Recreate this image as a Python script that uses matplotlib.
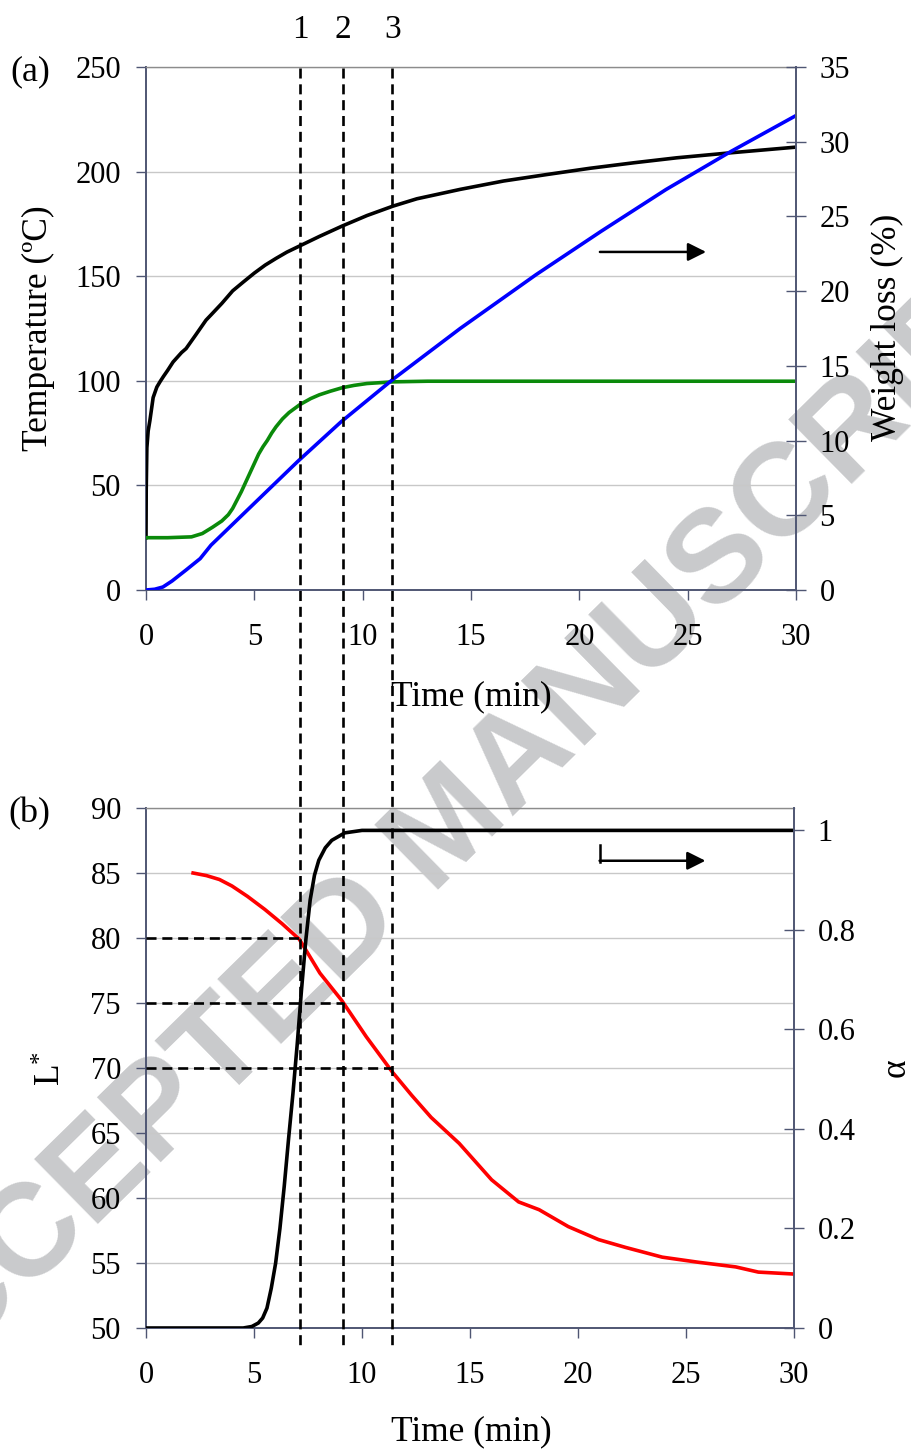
import numpy as np
import matplotlib
matplotlib.use("Agg")
import matplotlib.pyplot as plt
from matplotlib.lines import Line2D
from matplotlib import transforms

plt.rcParams["font.family"] = ["Liberation Serif", "DejaVu Serif"]
plt.rcParams["mathtext.fontset"] = "custom"
plt.rcParams["mathtext.rm"] = "Liberation Serif"
plt.rcParams["mathtext.it"] = "Liberation Serif:italic"

# ---- (a) temperature, weight loss and colour curve vs time ----
t_temp = [0, 0.01, 0.04, 0.1, 0.18, 0.33, 0.5, 0.65, 0.8, 1.0, 1.25, 1.64, 1.85, 2.3, 2.77,
          3.0, 3.5, 4.0, 4.5, 5.0, 5.5, 6.0, 6.5, 7.1, 8.0, 9.06, 10.2, 11.4, 12.5, 14.5,
          16.5, 18.5, 20.5, 22.5, 24.5, 27.0, 30]
temp = [25, 48, 68, 76, 81, 92, 97, 99.6, 102, 105, 109, 113.5, 115.4, 122, 129,
        131.5, 137, 143, 147.3, 151.5, 155.3, 158.5, 161.5, 164.5, 169, 174, 179, 183.5, 187,
        191.5, 195.5, 198.6, 201.6, 204.2, 206.6, 209, 211.7]

t_wl = [0, 0.4, 0.78, 1.2, 1.85, 2.5, 3.0, 5, 7, 9, 11.4, 14.5, 18, 21, 24, 27, 30]
weight_loss = [0, 0.05, 0.2, 0.6, 1.34, 2.1, 3.0, 5.8, 8.6, 11.25, 14.1, 17.5, 21.1, 24.0,
               26.8, 29.35, 31.75]

t_green = [0, 1, 2.1, 2.6, 3.07, 3.5, 3.8, 4.0, 4.2, 4.4, 4.6, 4.8, 5.0, 5.2, 5.4, 5.6,
           5.8, 6.0, 6.3, 6.6, 7.1, 7.6, 8.0, 8.5, 9.06, 9.6, 10.2, 11.4, 13, 30]
green = [25, 25, 25.4, 27, 30, 33, 36, 39, 43, 47, 51.5, 56, 60.5, 65, 68.5, 71.5,
         75, 78, 81.8, 84.8, 88.6, 91.5, 93.3, 95, 96.7, 97.8, 98.7, 99.5, 99.8, 99.8]

# ---- (b) lightness L* and conversion alpha vs time ----
t_alpha = [0, 4.5, 4.9, 5.2, 5.4, 5.6, 5.8, 6.0, 6.2, 6.4, 6.6, 6.8, 7.0, 7.2, 7.4, 7.6,
           7.8, 8.0, 8.3, 8.6, 9.2, 10, 30]
alpha = [0, 0, 0.003, 0.01, 0.02, 0.04, 0.08, 0.13, 0.2, 0.285, 0.38, 0.47, 0.57, 0.68,
         0.78, 0.86, 0.91, 0.94, 0.965, 0.98, 0.995, 1.0, 1.0]

t_L = [2.18, 2.8, 3.4, 3.98, 4.7, 5.5, 6.3, 7.1, 8.05, 9.06, 10.2, 11.4, 12.3, 13.2, 14.5,
       16.0, 17.25, 18.2, 19.55, 20.95, 22.2, 23.9, 25.6, 27.3, 28.35, 30]
L_star = [85, 84.8, 84.5, 84, 83.2, 82.2, 81.1, 79.9, 77.3, 75.2, 72.4, 69.7, 67.9, 66.2,
          64.2, 61.4, 59.7, 59.1, 57.8, 56.8, 56.2, 55.45, 55.05, 54.7, 54.3, 54.15]

# marked times and the L* levels read at them
mark_times = [7.15, 9.1, 11.4]
mark_names = ["1", "2", "3"]
mark_L = [80, 75, 70]

W, H = 912, 1451
SPINE = "#4f5673"
GRID = "#c8c8c8"
LW = 2.6
DASH = dict(color="black", lw=1.9, dashes=(3.8, 2.2))


def fx(px):
    return px / W


def fy(py):
    return 1 - py / H


fig = plt.figure(figsize=(W / 100, H / 100), dpi=100)
ax1 = fig.add_axes([fx(146), fy(590), (796 - 146) / W, (590 - 67) / H])
ax2 = fig.add_axes([fx(146), fy(1328), (794 - 146) / W, (1328 - 808) / H])
ax1r = ax1.twinx()
ax2r = ax2.twinx()

for ax in (ax1, ax2):
    ax.set_facecolor("none")
    ax.set_xlim(0, 30)
    ax.set_xticks(np.arange(0, 31, 5))
    ax.grid(axis="y", color=GRID, lw=1.0)
    ax.set_axisbelow(True)
    ax.spines["right"].set_visible(False)
    ax.spines["top"].set_color("#8c8c8c")
    ax.spines["top"].set_linewidth(1.0)
    for s in ("left", "bottom"):
        ax.spines[s].set_color(SPINE)
        ax.spines[s].set_linewidth(1.4)
    ax.tick_params(axis="both", direction="out", length=7, width=1.0, color=SPINE,
                   labelsize=22)
    ax.tick_params(axis="x", pad=17)
    ax.tick_params(axis="y", pad=11)

for ax in (ax1r, ax2r):
    for s in ("left", "bottom", "top"):
        ax.spines[s].set_visible(False)
    ax.spines["right"].set_color(SPINE)
    ax.spines["right"].set_linewidth(1.4)
    ax.tick_params(axis="y", direction="inout", length=14, width=1.0, color=SPINE,
                   labelsize=22, pad=10)

# panel (a)
ax1.plot(t_temp, temp, color="black", lw=LW, zorder=3)
ax1.plot(t_green, green, color="#0a8a0a", lw=LW, zorder=3)
ax1r.plot(t_wl, weight_loss, color="#0000ff", lw=LW)
ax1.set_ylim(0, 250)
ax1.set_yticks(np.arange(0, 251, 50))
ax1r.set_ylim(0, 35)
ax1r.set_yticks(np.arange(0, 36, 5))
ax1.annotate("", xy=(25.85, 161.6), xytext=(20.95, 161.6),
             arrowprops=dict(arrowstyle="-|>,head_length=1.1,head_width=0.55",
                             color="black", lw=1.8, shrinkA=0, shrinkB=0))

# panel (b)
ax2.plot(t_L, L_star, color="#ff0000", lw=LW, zorder=3)
ax2r.plot(t_alpha, alpha, color="black", lw=LW)
ax2.set_ylim(50, 90)
ax2.set_yticks(np.arange(50, 91, 5))
ax2r.set_ylim(0, 1.045)
ax2r.set_yticks([0, 0.2, 0.4, 0.6, 0.8, 1.0])
ax2r.set_yticklabels(["0", "0.2", "0.4", "0.6", "0.8", "1"])
ax2r.plot([21.0, 21.0], [0.971, 0.937], color="black", lw=1.8, solid_capstyle="projecting")
ax2r.annotate("", xy=(25.9, 0.939), xytext=(21.0, 0.939),
              arrowprops=dict(arrowstyle="-|>,head_length=1.1,head_width=0.55",
                              color="black", lw=1.8, shrinkA=0, shrinkB=0))

# horizontal guides from the L* axis to the marked times
for tm, lv in zip(mark_times, mark_L):
    ax2.plot([0, tm], [lv, lv], zorder=4, **DASH)

# vertical guides running through both panels
blend = transforms.blended_transform_factory(ax2.transData, fig.transFigure)
for tm, name in zip(mark_times, mark_names):
    fig.add_artist(Line2D([tm, tm], [fy(68), fy(1350)], transform=blend, zorder=5, **DASH))
    fig.text(tm, fy(30), name, transform=blend, ha="center", va="center", fontsize=24)

# axis labels
fig.text(fx(38), fy(328), "Temperature (ºC)", rotation=90, ha="center", va="center",
         fontsize=25.5)
fig.text(fx(887), fy(327), "Weight loss (%)", rotation=90, ha="center", va="center",
         fontsize=25.5)
fig.text(fx(471), fy(697), "Time (min)", ha="center", va="center", fontsize=25.5)
fig.text(fx(471), fy(1432), "Time (min)", ha="center", va="center", fontsize=25.5)
fig.text(fx(52), fy(1068), r"L$^{*}$", rotation=90, ha="center", va="center", fontsize=25.5)
fig.text(fx(896), fy(1068), "α", rotation=90, ha="center", va="center", fontsize=25.5)
fig.text(fx(30), fy(72), "(a)", ha="center", va="center", fontsize=26)
fig.text(fx(29), fy(814), "(b)", ha="center", va="center", fontsize=26)

# watermark behind the plots
fig.text(fx(450), fy(830), "ACCEPTED MANUSCRIPT", rotation=44.5, rotation_mode="anchor",
         ha="center", va="center", fontsize=95, fontweight="bold", family="Liberation Sans",
         color="#c9cacc", zorder=-1)

fig.savefig("out.png", dpi=100)
